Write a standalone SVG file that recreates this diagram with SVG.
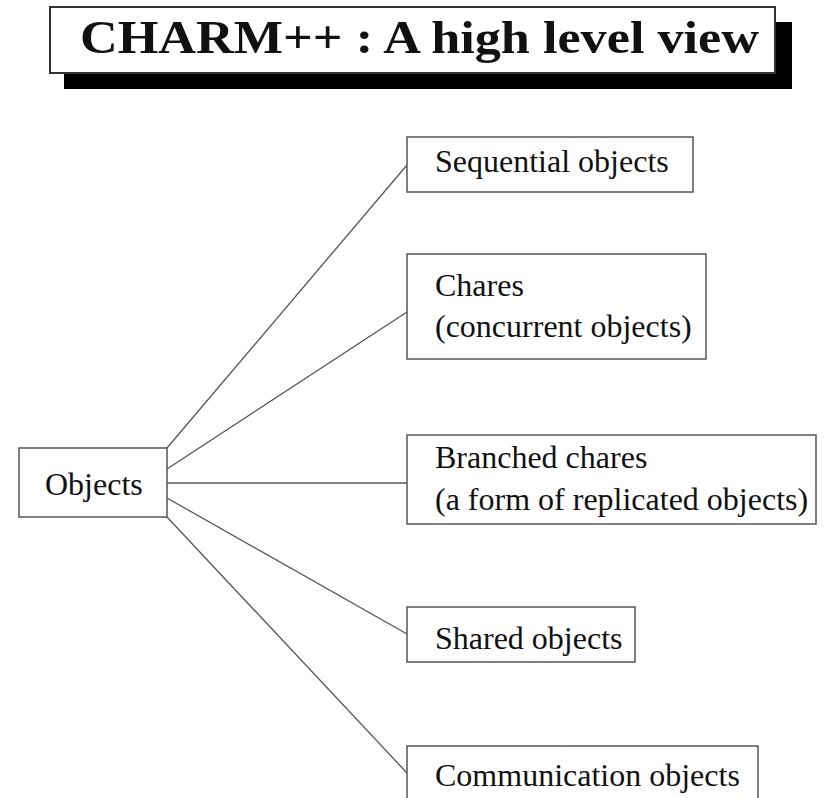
<svg xmlns="http://www.w3.org/2000/svg" width="824" height="798" viewBox="0 0 824 798">
<style>
.box{fill:#fff;stroke:#555;stroke-width:1.5}
.lbl{font-family:"Liberation Serif","Times New Roman",serif;font-size:32px;fill:#111}
.title{font-family:"Liberation Serif","Times New Roman",serif;font-size:47px;font-weight:bold;fill:#111}
.conn line{stroke:#555;stroke-width:1.3}
</style>
<rect width="824" height="798" fill="#fff"/>
<g id="title">
<rect x="64" y="22" width="728" height="67" fill="#000"/>
<rect x="50" y="7" width="725" height="66" fill="#fff" stroke="#333" stroke-width="2"/>
<text class="title" x="80" y="53" textLength="679" lengthAdjust="spacingAndGlyphs">CHARM++ : A high level view</text>
</g>
<g id="connectors" class="conn">
<line x1="167" y1="448" x2="407" y2="165"/>
<line x1="167" y1="469" x2="407" y2="312"/>
<line x1="167" y1="483" x2="407" y2="483"/>
<line x1="167" y1="498" x2="407" y2="634"/>
<line x1="167" y1="517" x2="407" y2="773"/>
</g>
<g id="objects">
<rect class="box" x="19" y="448" width="148" height="69"/>
<text class="lbl" x="45" y="495">Objects</text>
</g>
<g id="sequential">
<rect class="box" x="407" y="137" width="286" height="55"/>
<text class="lbl" x="435" y="172">Sequential objects</text>
</g>
<g id="chares">
<rect class="box" x="407" y="254" width="299" height="105"/>
<text class="lbl" x="435" y="296">Chares</text>
<text class="lbl" x="435" y="337">(concurrent objects)</text>
</g>
<g id="branched">
<rect class="box" x="407" y="435" width="409" height="89"/>
<text class="lbl" x="435" y="468">Branched chares</text>
<text class="lbl" x="435" y="510">(a form of replicated objects)</text>
</g>
<g id="shared">
<rect class="box" x="407" y="607" width="228" height="55"/>
<text class="lbl" x="435" y="649">Shared objects</text>
</g>
<g id="communication">
<rect class="box" x="407" y="746" width="351" height="70"/>
<text class="lbl" x="435" y="786">Communication objects</text>
</g>
</svg>
